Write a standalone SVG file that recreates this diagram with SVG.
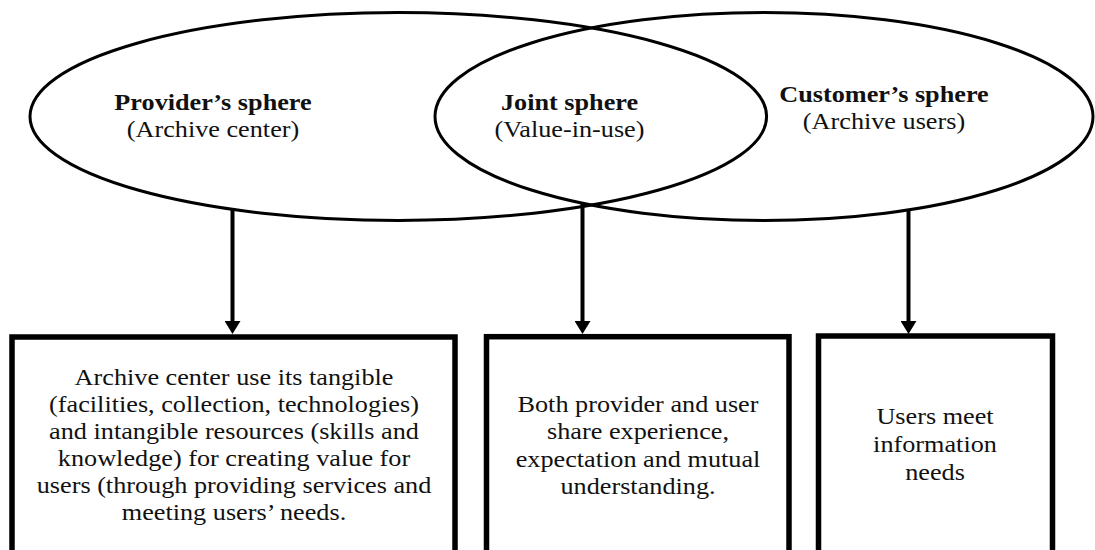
<svg xmlns="http://www.w3.org/2000/svg" width="1095" height="550" viewBox="0 0 1095 550">
  <defs>
    <style>
      .sphere { fill: none; stroke: #000; stroke-width: 3; }
      .box { fill: none; stroke: #000; stroke-width: 5.5; }
      .conn { stroke: #000; stroke-width: 4; fill: none; }
      .t { font-family: "Liberation Serif", "Times New Roman", serif; font-size: 23px; fill: #111; text-anchor: middle; }
      .b { font-weight: bold; }
    </style>
    <marker id="arrow" viewBox="0 0 13 16" markerWidth="13" markerHeight="16" refX="0" refY="8" orient="auto" markerUnits="userSpaceOnUse">
      <path d="M0,0 L13,8 L0,16 z" fill="#000"/>
    </marker>
  </defs>
  <rect width="1095" height="550" fill="#fff"/>

  <g id="provider-sphere">
    <ellipse class="sphere" cx="398.3" cy="116.5" rx="368.3" ry="104"/>
    <g transform="translate(213 0) scale(1.14 1)">
      <text class="t b" x="0" y="110">Provider’s sphere</text>
      <text class="t" x="0" y="137">(Archive center)</text>
    </g>
  </g>

  <g id="customer-sphere">
    <ellipse class="sphere" cx="764" cy="116.5" rx="329" ry="104"/>
    <g transform="translate(884 0) scale(1.14 1)">
      <text class="t b" x="0" y="102.5">Customer’s sphere</text>
      <text class="t" x="0" y="129.5">(Archive users)</text>
    </g>
  </g>

  <g id="joint-sphere">
    <g transform="translate(569.5 0) scale(1.14 1)">
      <text class="t b" x="0" y="110.5">Joint sphere</text>
      <text class="t" x="0" y="137.5">(Value-in-use)</text>
    </g>
  </g>

  <g id="connectors">
    <line class="conn" x1="232.5" y1="210" x2="232.5" y2="321" marker-end="url(#arrow)"/>
    <line class="conn" x1="582.5" y1="204" x2="582.5" y2="321" marker-end="url(#arrow)"/>
    <line class="conn" x1="908.5" y1="211" x2="908.5" y2="321" marker-end="url(#arrow)"/>
  </g>

  <g id="provider-box">
    <rect class="box" x="12" y="337" width="443" height="240"/>
    <g transform="translate(234 0) scale(1.14 1)">
      <text class="t" x="0" y="385">Archive center use its tangible</text>
      <text class="t" x="0" y="412">(facilities, collection, technologies)</text>
      <text class="t" x="0" y="439">and intangible resources (skills and</text>
      <text class="t" x="0" y="466">knowledge) for creating value for</text>
      <text class="t" x="0" y="493">users (through providing services and</text>
      <text class="t" x="0" y="520">meeting users’ needs.</text>
    </g>
  </g>

  <g id="joint-box">
    <rect class="box" x="486.5" y="336.7" width="302.5" height="240"/>
    <g transform="translate(638 0) scale(1.14 1)">
      <text class="t" x="0" y="412">Both provider and user</text>
      <text class="t" x="0" y="439.3">share experience,</text>
      <text class="t" x="0" y="466.6">expectation and mutual</text>
      <text class="t" x="0" y="494">understanding.</text>
    </g>
  </g>

  <g id="customer-box">
    <rect class="box" x="818.5" y="336" width="234" height="240"/>
    <g transform="translate(935 0) scale(1.14 1)">
      <text class="t" x="0" y="424">Users meet</text>
      <text class="t" x="0" y="452">information</text>
      <text class="t" x="0" y="480">needs</text>
    </g>
  </g>
</svg>
